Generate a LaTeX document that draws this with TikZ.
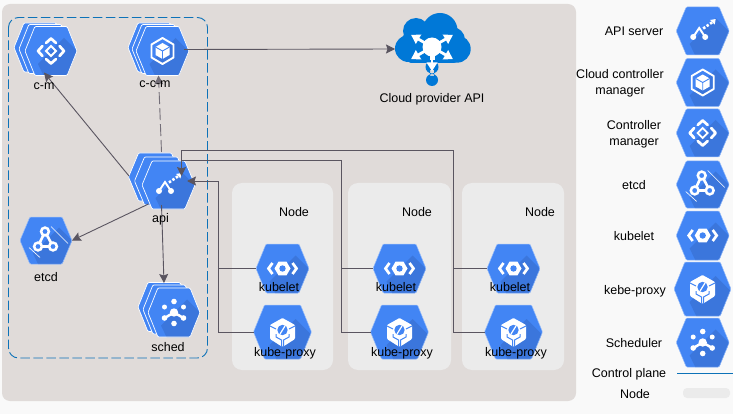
\documentclass[tikz,border=0pt]{standalone}
\usepackage{fontspec}
\setmainfont{Liberation Sans}
\usetikzlibrary{arrows.meta,calc}
\definecolor{pagebg}{HTML}{F9F9F9}
\definecolor{panelbg}{HTML}{E0DBD9}
\definecolor{nodebg}{HTML}{EBEBEB}
\definecolor{gblue}{HTML}{4285F4}
\definecolor{gshade}{HTML}{3B76DC}
\definecolor{cpline}{HTML}{0D72B8}
\definecolor{cloudblue}{HTML}{0078D7}
\definecolor{connc}{HTML}{5A5560}
\tikzset{
  lbl/.style={font=\fontsize{12.5}{16}\selectfont, inner sep=0pt, align=center, text=black},
  conn/.style={draw=connc, line width=0.9pt},
  arrowconn/.style={conn, -{Stealth[length=9pt,width=9pt,inset=1.5pt]}},
  hexanchor/.style={inner sep=0pt, outer sep=0pt, rectangle},
  nodepanel/.style={fill=nodebg, rounded corners=10pt},
  glyphline/.style={draw=white, line width=2.7pt, line cap=round, line join=round},
  hexedge/.style={draw=white!45!gblue, line width=0.5pt},
  stackfront/.style={hexedge/.style={draw=white, line width=0.7pt}},
}
\newcommand\hexoutline[2]{(-#1,0) -- ({-0.62*#1},{-#2}) -- ({0.62*#1},{-#2}) -- (#1,0) -- ({0.62*#1},#2) -- ({-0.62*#1},#2) -- cycle}
% back layer of a stack
\newcommand\hexback[4]{\path[shift={(#1,#2)}, fill=gblue, draw=white, line width=0.7pt, rounded corners=1pt] \hexoutline{#3}{#4};}
% name, cx, cy, rx, ry, glyph
\newcommand\hexa[6]{%
  \begin{scope}[shift={(#2,#3)}]
    \path[fill=gblue, rounded corners=1pt] \hexoutline{#4}{#5};
    \begin{scope}
      \clip[rounded corners=1pt] \hexoutline{#4}{#5};
      \fill[gshade] (13,-13) -- (53,27) -- (13,67) -- (-13,13) -- cycle;
    \end{scope}
    \path[hexedge, rounded corners=1pt] \hexoutline{#4}{#5};
    #6
  \end{scope}
  \node[hexanchor, minimum width=#4*2pt, minimum height=#5*2pt] (#1) at (#2,#3) {};
}
\newcommand\gcm{%
  \draw[glyphline] (-5,-8) -- (0,-12.5) -- (5,-8);
  \draw[glyphline] (-5,8) -- (0,12.5) -- (5,8);
  \draw[glyphline] (-8.5,-5) -- (-13,0) -- (-8.5,5);
  \draw[glyphline] (8.5,-5) -- (13,0) -- (8.5,5);
  \draw[draw=white, line width=1.8pt] (-5,0) -- (0,-5) -- (5,0) -- (0,5) -- cycle;
}
\newcommand\gccm{%
  \draw[draw=white, line width=1.9pt, line join=round] (0,-13) -- (11,-6.5) -- (11,6.5) -- (0,13) -- (-11,6.5) -- (-11,-6.5) -- cycle;
  \fill[white] (0,-8) -- (7,-4) -- (7,4) -- (0,8) -- (-7,4) -- (-7,-4) -- cycle;
  \draw[gblue, line width=0.9pt] (-7,-4) -- (0,0) -- (7,-4) (0,0) -- (0,8);
}
\newcommand\gapi{%
  \draw[draw=white, line width=1.9pt] (-9.5,6) -- (-3.5,-3) -- (2.5,6);
  \fill[white] (-9.5,6) circle (3) (2.5,6) circle (3);
  \draw[draw=white, line width=2.6pt, dash pattern=on 2.4pt off 1.8pt] (0.5,-2.5) -- (10,-9);
  \fill[white] (13,-12) -- (7.5,-11) -- (12,-6.5) -- cycle;
}
\newcommand\getcd{%
  \draw[draw=white, line width=0.6pt] (22,3) -- (5,-14) (-17,7) -- (-6,17);
  \draw[draw=white, line width=2.6pt] (-1,-9) -- (-8,6) -- (7,6) -- cycle;
  \foreach \p in {(-1,-9),(-8,6),(7,6)} {\draw[draw=white, line width=2.5pt, fill=gblue] \p circle (3.9);}
}
\newcommand\gkubelet{%
  \draw[glyphline, line cap=butt, line join=miter] (-10,-5.5) -- (-14,0) -- (-10,5.5);
  \draw[glyphline, line cap=butt, line join=miter] (10,-5.5) -- (14,0) -- (10,5.5);
  \fill[white] (-8,0) -- (-4,-6.8) -- (4,-6.8) -- (8,0) -- (4,6.8) -- (-4,6.8) -- cycle;
  \fill[gblue] (0,0) circle (3.2);
}
\newcommand\gproxy{%
  \fill[white, rounded corners=1pt] (0,-14) -- (12.5,-7) -- (12.5,7) -- (0,15) -- (-12.5,7) -- (-12.5,-7) -- cycle;
  \draw[gblue, line width=1pt] (-12.5,-6) -- (-6.5,-3) (12.5,-6) -- (6.5,-3) (-6.5,2) -- (-6.5,5) -- (-1,8) -- (-1,15);
  \draw[gblue, line width=1pt] (6.5,2) -- (6.5,5) -- (1,8) -- (1,15);
  \fill[gblue] (0,-2) circle (5.2);
  \draw[white, line width=1.2pt] (-2.5,2) -- (2.5,-6);
}
\newcommand\gsched{%
  \draw[draw=white, line width=2.5pt] (-9.5,5.5) -- (0,0) -- (9.5,5.5);
  \fill[white] (0,0) circle (4.2) (0,-11) circle (2.8) (0,11) circle (2.8)
     (-9.5,-5.5) circle (2.5) (9.5,-5.5) circle (2.5) (-9.5,5.5) circle (2.8) (9.5,5.5) circle (2.8);
}
\begin{document}
\begin{tikzpicture}[x=1pt,y=-1pt]
\useasboundingbox (0,0) rectangle (733,414);
\fill[pagebg] (0,0) rectangle (733,414);
\fill[panelbg, rounded corners=8pt] (2,4) rectangle (576,401);
\draw[cpline, line width=0.9pt, dash pattern=on 9.5pt off 3.5pt, rounded corners=10pt] (8.5,17.5) rectangle (207.5,358);
% node panels
\fill[nodepanel] (232,183) rectangle (333,370);
\fill[nodepanel] (348,183) rectangle (451,370);
\fill[nodepanel] (462,183) rectangle (564,370);
% control-plane icons
\begin{scope}[stackfront]
\hexback{40}{47.5}{26}{24.5}
\hexback{45}{49}{26}{24.5}
\hexa{cm}{51}{51}{26}{24.5}{\gcm}
\hexback{154}{47.5}{26}{24.5}
\hexback{158}{49}{26}{24.5}
\hexa{ccm}{162.5}{51}{26.5}{24.5}{\gccm}
\hexback{155}{177}{26.5}{24}
\hexback{161}{181}{26.5}{24}
\hexa{api}{168.5}{185}{26.5}{24}{\gapi}
\hexback{164}{307}{26}{24.5}
\hexback{169}{309.5}{26}{24.5}
\hexa{sched}{174}{312.5}{26}{24.5}{\gsched}
\end{scope}
\hexa{etcd}{46}{240.5}{26}{23.5}{\getcd}
% worker icons
\hexa{kubeletA}{282.5}{268.5}{26.5}{24.5}{\gkubelet}
\hexa{kubeletB}{399.5}{268.5}{26.5}{24.5}{\gkubelet}
\hexa{kubeletC}{513.5}{268.5}{26.5}{24.5}{\gkubelet}
\hexa{proxyA}{282.5}{332}{29}{27}{\gproxy}
\hexa{proxyB}{399.5}{332}{29}{27}{\gproxy}
\hexa{proxyC}{513.5}{332}{29}{27}{\gproxy}
% cloud
\begin{scope}
  \fill[cloudblue] (408.5,48.5) circle (13.5) (416,31) circle (13) (440,30.5) circle (17.5) (457,49) circle (13.7) (432,44) circle (18) (415,43) circle (14) (452,40) circle (13);
  \fill[cloudblue, rounded corners=3pt] (408,45) rectangle (457,63);
  \fill[cloudblue] (432,67) circle (6.5) (432,80) circle (6) (430,70) rectangle (434,76);
  \fill[white] (432,47) circle (9.5);
  \fill[white] (429.5,50) rectangle (434.5,60.5);
  \foreach \a in {90,30,150,210,330} {
    \draw[white, line width=2.8pt] (432,47) -- ++(\a:17);
    \fill[white] ($(432,47)+(\a:24)$) -- ($(432,47)+(\a:15.5)+(\a+90:5.5)$) -- ($(432,47)+(\a:15.5)+(\a-90:5.5)$) -- cycle;
  }
\end{scope}
\node[hexanchor, minimum width=76pt, minimum height=72pt] (cloud) at (433,49) {};
% connectors
\coordinate (apiTipA) at (181.5,176);
\coordinate (apiTipB) at (187,181);
\coordinate (busAtop) at (218,181);
\coordinate (busBtop) at (341.5,160);
\coordinate (busCtop) at (453,150);
\coordinate (joinB) at (181.5,160);
\draw[arrowconn] ($(ccm.east)+(-5,-1.5)$) -- (cloud.west);
\draw[arrowconn] ($(api.west)+(-13,-9)$) -- ($(cm.south)+(-7,-3)$);
\draw[arrowconn, dash pattern=on 12pt off 4pt, draw=connc!85] ($(api.north)+(-7,-9)$) -- ($(ccm.south)+(-4,0)$);
\draw[arrowconn] ($(api.south)+(-20,-5)$) -- (etcd.east);
\draw[arrowconn] ($(api.south)+(-7,-4)$) -- ($(sched.north)+(-10,-5)$);
\draw[conn] (kubeletA.west) -- (kubeletA.west -| busAtop);
\draw[arrowconn] (proxyA.west) -| (busAtop) -- (apiTipB);
\draw[conn] (kubeletB.west) -- (kubeletB.west -| busBtop);
\draw[conn] (proxyB.west) -| (busBtop) -- (joinB);
\draw[conn] (kubeletC.west) -- (kubeletC.west -| busCtop);
\draw[arrowconn] (proxyC.west) -| (busCtop) -| (apiTipA);
% labels
\node[lbl] (lcm) at (44,86) {c-m};
\node[lbl] (lccm) at (155,84) {c-c-m};
\node[lbl] (lapi) at (160.5,219) {api};
\node[lbl] (letcd) at (46,277) {etcd};
\node[lbl] (lsched) at (168,347) {sched};
\node[lbl] (lcloud) at (432,99) {Cloud provider API};
\node[lbl] (lnodeA) at (294,212) {Node};
\node[lbl] (lnodeB) at (417,212) {Node};
\node[lbl] (lnodeC) at (540,212) {Node};
\node[lbl] (lkA) at (279,287) {kubelet};
\node[lbl] (lkB) at (396,287) {kubelet};
\node[lbl] (lkC) at (510,287) {kubelet};
\node[lbl] (lpA) at (285,353) {kube-proxy};
\node[lbl] (lpB) at (402,353) {kube-proxy};
\node[lbl] (lpC) at (516,353) {kube-proxy};
% legend
\hexa{legApi}{702.7}{31}{26.5}{24}{\gapi}
\hexa{legCcm}{702.7}{82.5}{26.5}{24}{\gccm}
\hexa{legCm}{702.7}{133}{26.5}{24}{\gcm}
\hexa{legEtcd}{702.7}{184.5}{26.5}{23.5}{\getcd}
\hexa{legKubelet}{702.7}{235.5}{26.5}{24.5}{\gkubelet}
\hexa{legProxy}{702.5}{289}{28.5}{27}{\gproxy}
\hexa{legSched}{702.7}{342.5}{26.5}{24.5}{\gsched}
\node[lbl] (t1) at (634,31) {API server};
\node[lbl] (t2) at (620,83) {Cloud controller\\manager};
\node[lbl] (t3) at (634,134) {Controller\\manager};
\node[lbl] (t4) at (634,185) {etcd};
\node[lbl] (t5) at (634,236) {kubelet};
\node[lbl] (t6) at (635,291) {kebe-proxy};
\node[lbl] (t7) at (634,343) {Scheduler};
\node[lbl] (t8) at (629,374) {Control plane};
\node[lbl] (t9) at (635,394) {Node};
\draw[cpline, line width=0.9pt] (677,373) -- (733,373);
\fill[nodebg, rounded corners=4pt] (683,388) rectangle (730,398);
\end{tikzpicture}
\end{document}
